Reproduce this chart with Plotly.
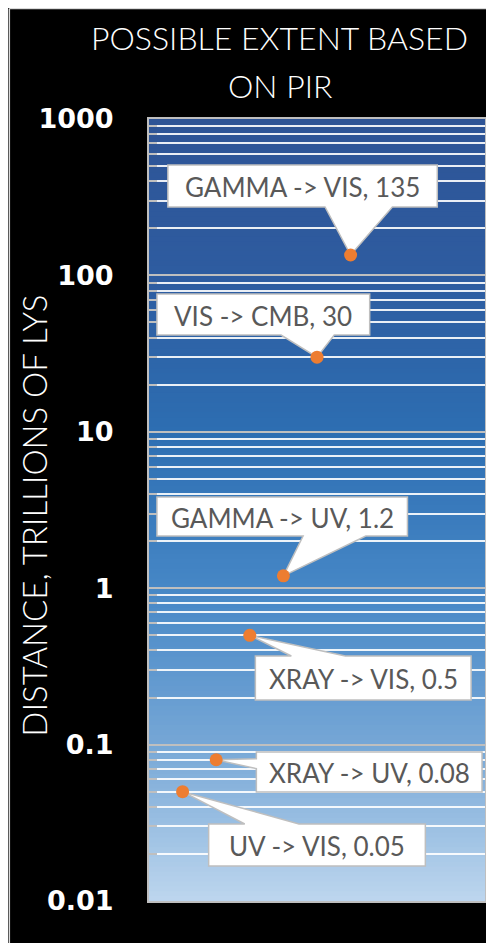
import math
import plotly.graph_objects as go

# ---- data ----
labels = ["UV -> VIS", "XRAY -> UV", "XRAY -> VIS", "GAMMA -> UV", "VIS -> CMB", "GAMMA -> VIS"]
values = [0.05, 0.08, 0.5, 1.2, 30, 135]
xpos = [1, 2, 3, 4, 5, 6]
tick_vals = [0.01, 0.1, 1, 10, 100, 1000]
tick_text = ["0.01", "0.1", "1", "10", "100", "1000"]

# ---- layout geometry (reference screen pixels; page has an 8px body margin) ----
OFF = 8
W, H = 494 - OFF, 943 - OFF
PL, PR, PT, PB = 149 - OFF, 487 - OFF, 119 - OFF, 901 - OFF
PW, PH = PR - PL, PB - PT
XR = [0, 10]
YR = [-2, 3]

def sx(px):  # reference screen x -> figure paper x
    return (px - OFF - PL) / PW

def sy(py):  # reference screen y -> figure paper y
    return (PB - (py - OFF)) / PH

def sx_data(px):
    return XR[0] + sx(px) * (XR[1] - XR[0])

def sy_data(py):
    return 10 ** (YR[0] + sy(py) * (YR[1] - YR[0]))

def data2screen(xv, yv):
    ax = OFF + PL + (xv - XR[0]) / (XR[1] - XR[0]) * PW
    ay = OFF + PB - (math.log10(yv) - YR[0]) / (YR[1] - YR[0]) * PH
    return ax, ay

# callout boxes (reference screen pixels), same order as labels
boxes = [
    (209, 824, 427, 866),
    (257, 752, 484, 792),
    (256, 656, 473, 700),
    (157, 497, 409, 536),
    (157, 294, 371, 335),
    (168, 165, 439, 207),
]

def callout_path(box, ax, ay):
    l, t, r, b = box
    w, h = r - l, b - t
    hc, vc = (l + r) / 2, (t + b) / 2
    dx, dy = ax - hc, ay - vc
    dq = dx * h / w
    dz = abs(dy) - abs(dq)
    x1 = l + w * (7 if dx > 0 else 2) / 12
    x2 = l + w * (10 if dx > 0 else 5) / 12
    y1 = t + h * (7 if dy > 0 else 2) / 12
    y2 = t + h * (10 if dy > 0 else 5) / 12
    pts = [(l, t)]
    if dz > 0 and dy < 0:
        pts += [(x1, t), (ax, ay), (x2, t)]
    pts += [(r, t)]
    if dz <= 0 and dx > 0:
        pts += [(r, y1), (ax, ay), (r, y2)]
    pts += [(r, b)]
    if dz > 0 and dy > 0:
        pts += [(x2, b), (ax, ay), (x1, b)]
    pts += [(l, b)]
    if dz <= 0 and dx < 0:
        pts += [(l, y2), (ax, ay), (l, y1)]
    return "M " + " L ".join(f"{sx_data(p[0]):.5f},{sy_data(p[1]):.6g}" for p in pts) + " Z"

shapes = []
# light border at left/top of the black chart area
shapes.append(dict(type="line", xref="paper", yref="paper", x0=sx(8.5), x1=sx(8.5), y0=sy(950), y1=sy(8.5),
                   line=dict(color="#d9d9d9", width=1.5), layer="below"))
shapes.append(dict(type="line", xref="paper", yref="paper", x0=sx(8.5), x1=sx(500), y0=sy(8.5), y1=sy(8.5),
                   line=dict(color="#d9d9d9", width=1.5), layer="below"))

# gradient plot background
stops = [(0.0, (46, 84, 150)), (0.2, (46, 92, 160)), (0.4, (45, 110, 178)),
         (0.6, (70, 135, 198)), (0.8, (118, 167, 214)), (1.0, (189, 214, 238))]

def grad(t):
    for i in range(len(stops) - 1):
        t0, c0 = stops[i]
        t1, c1 = stops[i + 1]
        if t0 <= t <= t1:
            f = (t - t0) / (t1 - t0)
            return "rgb(%d,%d,%d)" % tuple(round(c0[k] + (c1[k] - c0[k]) * f) for k in range(3))
    return "rgb(%d,%d,%d)" % stops[-1][1]

N = 160
for i in range(N):
    ta = i / N
    tb = (i + 1) / N
    shapes.append(dict(type="rect", xref="x domain", yref="y domain",
                       x0=0, x1=1, y0=max(0, 1 - tb - 0.002), y1=1 - ta,
                       fillcolor=grad((ta + tb) / 2), line=dict(width=0), layer="below"))

annotations = []
for lab, v, xi, box in zip(labels, values, xpos, boxes):
    ax, ay = data2screen(xi, v)
    shapes.append(dict(type="path", xref="x", yref="y",
                       path=callout_path(box, ax, ay),
                       fillcolor="white", line=dict(color="#bfbfbf", width=1.5),
                       layer="between"))
    l, t, r, b = box
    annotations.append(dict(x=sx((l + r) / 2), y=sy((t + b) / 2 + 1), xref="paper", yref="paper",
                            text=f"{lab}, {v:g}", showarrow=False,
                            font=dict(family="Lato", size=26, color="#595959"),
                            xanchor="center", yanchor="middle"))

# title
annotations.append(dict(x=sx(280), y=sy(37.5), xref="paper", yref="paper",
                        text="POSSIBLE EXTENT BASED", showarrow=False,
                        font=dict(family="Lato", size=32, color="white", weight=300),
                        xanchor="center", yanchor="middle"))
annotations.append(dict(x=sx(281), y=sy(85.5), xref="paper", yref="paper",
                        text="ON PIR", showarrow=False,
                        font=dict(family="Lato", size=32, color="white", weight=300),
                        xanchor="center", yanchor="middle"))
# y axis title
annotations.append(dict(x=sx(33), y=sy(516), xref="paper", yref="paper",
                        text="DISTANCE, TRILLIONS OF LYS", showarrow=False, textangle=-90,
                        font=dict(family="Lato", size=33, color="white", weight=300),
                        xanchor="center", yanchor="middle"))

fig = go.Figure()
fig.add_trace(go.Scatter(x=xpos, y=values, mode="markers",
                         marker=dict(color="#ED7D31", size=13, line=dict(width=0)),
                         hoverinfo="skip"))

fig.update_layout(
    width=W, height=H,
    margin=dict(l=PL, r=W - PR, t=PT, b=H - PB, pad=0),
    paper_bgcolor="black",
    plot_bgcolor="rgba(0,0,0,0)",
    showlegend=False,
    shapes=shapes,
    annotations=annotations,
    xaxis=dict(range=XR, showgrid=False, zeroline=False, showticklabels=False,
               showline=True, linecolor="#bfbfbf", linewidth=2, mirror=True, ticks=""),
    yaxis=dict(type="log", range=YR, tickvals=tick_vals, ticktext=tick_text,
               showgrid=True, gridcolor="#bfbfbf", gridwidth=2,
               ticks="inside", ticklen=8, tickcolor="#bfbfbf", tickwidth=1.5,
               showline=True, linecolor="#bfbfbf", linewidth=2, mirror=True,
               zeroline=False, ticklabelstandoff=28,
               tickfont=dict(family="DejaVu Sans", size=27, color="white", weight="bold"),
               minor=dict(dtick="D1", showgrid=True, gridcolor="rgba(255,255,255,0.9)", gridwidth=1.5,
                          ticks="inside", ticklen=8, tickcolor="#bfbfbf", tickwidth=1.5)),
)

fig.write_html("out.html")
